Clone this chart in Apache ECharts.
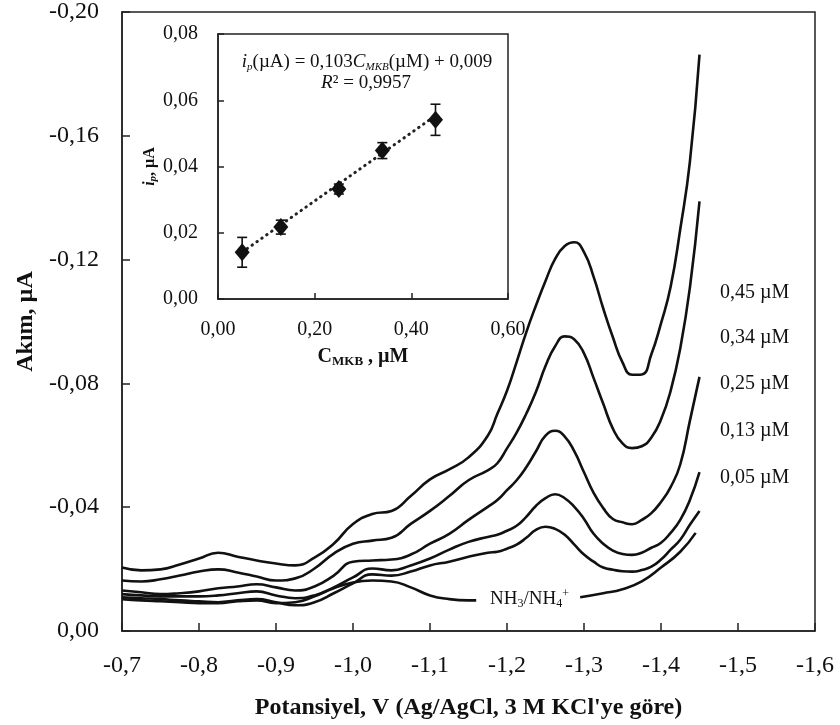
<!DOCTYPE html>
<html>
<head>
<meta charset="utf-8">
<script src="https://cdn.jsdelivr.net/npm/echarts@6/dist/echarts.min.js"></script>
<style>
  html, body { margin: 0; padding: 0; background: #fff; }
  #chart { width: 840px; height: 725px; }
</style>
</head>
<body>
<div id="chart"></div>
<script>
// Differential pulse voltammograms: potential (V vs Ag/AgCl) and current (µA).
// Sampling is 25 mV up to -1.175 V and 12.5 mV across the reduction peak.
const potential = [-0.700, -0.725, -0.750, -0.775, -0.800, -0.825, -0.850, -0.875, -0.900, -0.925,
  -0.950, -0.975, -1.000, -1.025, -1.050, -1.075, -1.100, -1.125, -1.150, -1.175,
  -1.1875, -1.2000, -1.2125, -1.2250, -1.2375, -1.2500, -1.2625, -1.2750, -1.2875, -1.3000, -1.3125,
  -1.3250, -1.3375, -1.3500, -1.3625, -1.3750, -1.3875, -1.4000, -1.4125, -1.4250, -1.4375, -1.4500];

const current045 = [-0.0205, -0.0196, -0.0199, -0.0215, -0.0234, -0.0253, -0.0240, -0.0228, -0.0218, -0.0212,
  -0.0237, -0.0282, -0.0346, -0.0378, -0.0388, -0.0436, -0.0490, -0.0522, -0.0561, -0.0631,
  -0.0702, -0.0776, -0.0869, -0.0965, -0.1051, -0.1131, -0.1202, -0.1244, -0.1256, -0.1224, -0.1144,
  -0.1042, -0.0949, -0.0868, -0.0828, -0.0829, -0.0894, -0.0994, -0.1112, -0.1298, -0.1516, -0.1862];
const current034 = [-0.0163, -0.0160, -0.0167, -0.0179, -0.0192, -0.0199, -0.0189, -0.0176, -0.0163, -0.0170,
  -0.0202, -0.0250, -0.0282, -0.0292, -0.0301, -0.0346, -0.0388, -0.0436, -0.0487, -0.0519,
  -0.0542, -0.0590, -0.0641, -0.0702, -0.0772, -0.0856, -0.0920, -0.0952, -0.0942, -0.0897, -0.0817,
  -0.0734, -0.0654, -0.0606, -0.0591, -0.0597, -0.0625, -0.0683, -0.0776, -0.0913, -0.1109, -0.1388];
const current025 = [-0.0131, -0.0125, -0.0119, -0.0122, -0.0128, -0.0138, -0.0144, -0.0151, -0.0141, -0.0131,
  -0.0144, -0.0179, -0.0224, -0.0228, -0.0231, -0.0247, -0.0282, -0.0314, -0.0359, -0.0401,
  -0.0423, -0.0455, -0.0487, -0.0529, -0.0580, -0.0631, -0.0647, -0.0628, -0.0580, -0.0513, -0.0446,
  -0.0397, -0.0362, -0.0351, -0.0345, -0.0359, -0.0381, -0.0417, -0.0465, -0.0538, -0.0679, -0.0821];
const current013 = [-0.0119, -0.0115, -0.0112, -0.0112, -0.0112, -0.0115, -0.0122, -0.0128, -0.0115, -0.0106,
  -0.0115, -0.0141, -0.0173, -0.0202, -0.0196, -0.0212, -0.0234, -0.0263, -0.0288, -0.0304,
  -0.0311, -0.0324, -0.0340, -0.0369, -0.0404, -0.0429, -0.0442, -0.0429, -0.0401, -0.0362, -0.0314,
  -0.0282, -0.0260, -0.0249, -0.0246, -0.0253, -0.0269, -0.0285, -0.0317, -0.0359, -0.0423, -0.0513];
const current005 = [-0.0109, -0.0106, -0.0103, -0.0099, -0.0096, -0.0093, -0.0099, -0.0103, -0.0093, -0.0083,
  -0.0093, -0.0122, -0.0154, -0.0183, -0.0179, -0.0192, -0.0212, -0.0224, -0.0240, -0.0253,
  -0.0256, -0.0266, -0.0279, -0.0301, -0.0327, -0.0337, -0.0330, -0.0311, -0.0279, -0.0247, -0.0224,
  -0.0205, -0.0198, -0.0193, -0.0192, -0.0197, -0.0208, -0.0231, -0.0263, -0.0295, -0.0343, -0.0388];

// Supporting electrolyte (NH3/NH4+) trace; the null leaves room for its label
const blankPotential = [-0.700, -0.725, -0.750, -0.775, -0.800, -0.825, -0.850, -0.875, -0.900, -0.925,
  -0.950, -0.975, -1.000, -1.025, -1.050, -1.075, -1.100, -1.125, -1.150, -1.160,
  -1.230, -1.295, -1.325, -1.350, -1.375, -1.400, -1.425, -1.445];
const blankCurrent = [-0.0103, -0.0099, -0.0096, -0.0093, -0.0090, -0.0090, -0.0096, -0.0099, -0.0090, -0.0093,
  -0.0112, -0.0138, -0.0157, -0.0163, -0.0160, -0.0141, -0.0115, -0.0103, -0.0099, -0.0099,
  null, -0.0109, -0.0122, -0.0135, -0.0160, -0.0205, -0.0256, -0.0317];

const concentrationLabels = ['0,45 µM', '0,34 µM', '0,25 µM', '0,13 µM', '0,05 µM'];

// Calibration inset: concentration (µM), peak current (µA), error (µA)
const concentration = [0.05, 0.13, 0.25, 0.34, 0.45];
const peakCurrent = [0.0141, 0.0217, 0.0332, 0.0448, 0.0541];
const peakError = [0.0045, 0.0021, 0.0015, 0.0024, 0.0047];
const fitSlope = 0.103;
const fitIntercept = 0.009;
const fitRange = [0.05, 0.45];

const SERIF = "'Liberation Serif', 'Times New Roman', serif";
const INK = '#111';

function comma(digits) {
  return function (v) {
    const x = Math.abs(v) < 1e-9 ? 0 : v;
    return x.toFixed(digits).replace('.', ',');
  };
}
function pairs(xs, ys) {
  return xs.map(function (x, i) { return [x, ys[i] === null ? '-' : ys[i]]; });
}

const curveStyle = { color: INK, width: 2.6 };
function curve(xs, ys) {
  return {
    type: 'line', xAxisIndex: 0, yAxisIndex: 0, data: pairs(xs, ys),
    showSymbol: false, symbol: 'none', smooth: 0.5, connectNulls: false,
    lineStyle: curveStyle, silent: true
  };
}

const chart = echarts.init(document.getElementById('chart'), null, { renderer: 'canvas' });

chart.setOption({
  animation: false,
  backgroundColor: '#fff',
  grid: [
    { left: 122, top: 9, width: 693, height: 624, show: true, borderColor: '#222', borderWidth: 1.5 },
    { left: 218, top: 34, width: 290, height: 265, show: true, borderColor: '#222', borderWidth: 1.5, backgroundColor: '#fff' }
  ],
  xAxis: [
    {
      gridIndex: 0, type: 'value', min: -1.6, max: -0.7, interval: 0.1, inverse: true,
      axisLine: { onZero: false, lineStyle: { color: '#222', width: 1.5 } },
      axisTick: { inside: true, length: 8, lineStyle: { color: '#222', width: 1.5 } },
      splitLine: { show: false },
      axisLabel: { formatter: comma(1), fontFamily: SERIF, fontSize: 24, color: INK, margin: 23 },
      name: "Potansiyel, V (Ag/AgCl, 3 M KCl'ye göre)", nameLocation: 'middle', nameGap: 65,
      nameTextStyle: { fontFamily: SERIF, fontSize: 24, fontWeight: 'bold', color: INK }
    },
    {
      gridIndex: 1, type: 'value', min: 0, max: 0.6, interval: 0.2,
      axisLine: { onZero: false, lineStyle: { color: '#222', width: 1.5 } },
      axisTick: { inside: true, length: 6, lineStyle: { color: '#222', width: 1.5 } },
      splitLine: { show: false },
      axisLabel: { formatter: comma(2), fontFamily: SERIF, fontSize: 20, color: INK, margin: 21 },
      name: '{b|C}{s|MKB}{b| , µM}', nameLocation: 'middle', nameGap: 47,
      nameTextStyle: {
        rich: {
          b: { fontFamily: SERIF, fontSize: 20, fontWeight: 'bold', color: INK, lineHeight: 22, verticalAlign: 'middle' },
          s: { fontFamily: SERIF, fontSize: 13, fontWeight: 'bold', color: INK, lineHeight: 15, verticalAlign: 'bottom' }
        }
      }
    }
  ],
  yAxis: [
    {
      gridIndex: 0, type: 'value', min: -0.2, max: 0, interval: 0.04, inverse: true,
      axisLine: { onZero: false, lineStyle: { color: '#222', width: 1.5 } },
      axisTick: { inside: true, length: 8, lineStyle: { color: '#222', width: 1.5 } },
      splitLine: { show: false },
      axisLabel: { formatter: comma(2), fontFamily: SERIF, fontSize: 24, color: INK, margin: 23 },
      name: 'Akım, µA', nameLocation: 'middle', nameGap: 83,
      nameTextStyle: { fontFamily: SERIF, fontSize: 24, fontWeight: 'bold', color: INK }
    },
    {
      gridIndex: 1, type: 'value', min: 0, max: 0.08, interval: 0.02,
      axisLine: { onZero: false, lineStyle: { color: '#222', width: 1.5 } },
      axisTick: { inside: true, length: 6, lineStyle: { color: '#222', width: 1.5 } },
      splitLine: { show: false },
      axisLabel: { formatter: comma(2), fontFamily: SERIF, fontSize: 20, color: INK, margin: 20 },
      name: '{i|i}{p|p}{n|, µA}', nameLocation: 'middle', nameGap: 58,
      nameTextStyle: {
        rich: {
          i: { fontFamily: SERIF, fontSize: 16, fontWeight: 'bold', fontStyle: 'italic', color: INK, lineHeight: 18, verticalAlign: 'middle' },
          p: { fontFamily: SERIF, fontSize: 11, fontWeight: 'bold', fontStyle: 'italic', color: INK, lineHeight: 12, verticalAlign: 'bottom' },
          n: { fontFamily: SERIF, fontSize: 16, fontWeight: 'bold', color: INK, lineHeight: 18, verticalAlign: 'middle' }
        }
      }
    }
  ],
  series: [
    curve(potential, current045),
    curve(potential, current034),
    curve(potential, current025),
    curve(potential, current013),
    curve(potential, current005),
    curve(blankPotential, blankCurrent),
    {
      // least-squares line of the calibration
      type: 'line', xAxisIndex: 1, yAxisIndex: 1, silent: true,
      data: fitRange.map(function (c) { return [c, fitSlope * c + fitIntercept]; }),
      symbol: 'none', z: 2,
      lineStyle: { color: '#222', width: 3, type: [0.5, 5.5], cap: 'round' }
    },
    {
      type: 'custom', xAxisIndex: 1, yAxisIndex: 1, silent: true, z: 3,
      data: concentration.map(function (c, i) { return [c, peakCurrent[i], peakError[i]]; }),
      renderItem: function (params, api) {
        const x = api.value(0), y = api.value(1), e = api.value(2);
        const top = api.coord([x, y + e]);
        const bot = api.coord([x, y - e]);
        const hw = 5;
        const st = { stroke: INK, lineWidth: 1.6 };
        return {
          type: 'group',
          children: [
            { type: 'line', shape: { x1: top[0], y1: top[1], x2: bot[0], y2: bot[1] }, style: st },
            { type: 'line', shape: { x1: top[0] - hw, y1: top[1], x2: top[0] + hw, y2: top[1] }, style: st },
            { type: 'line', shape: { x1: bot[0] - hw, y1: bot[1], x2: bot[0] + hw, y2: bot[1] }, style: st }
          ]
        };
      }
    },
    {
      type: 'scatter', xAxisIndex: 1, yAxisIndex: 1, silent: true, z: 4,
      data: concentration.map(function (c, i) { return [c, peakCurrent[i]]; }),
      symbol: 'diamond', symbolSize: [15, 18],
      itemStyle: { color: INK, opacity: 1 }
    }
  ],
  graphic: [
    {
      type: 'text', x: 367, y: 62,
      style: {
        text: '{it|i}{s|p}{n|(µA) = 0,103}{it|C}{s|MKB}{n|(µM) + 0,009}',
        align: 'center', verticalAlign: 'middle',
        rich: {
          it: { fontFamily: SERIF, fontSize: 19, fontStyle: 'italic', fill: INK, lineHeight: 22, verticalAlign: 'middle' },
          n: { fontFamily: SERIF, fontSize: 19, fill: INK, lineHeight: 22, verticalAlign: 'middle' },
          s: { fontFamily: SERIF, fontSize: 11, fontStyle: 'italic', fill: INK, lineHeight: 12, verticalAlign: 'bottom' }
        }
      }
    },
    {
      type: 'text', x: 366, y: 83,
      style: {
        text: '{it|R}{n|² = 0,9957}',
        align: 'center', verticalAlign: 'middle',
        rich: {
          it: { fontFamily: SERIF, fontSize: 19, fontStyle: 'italic', fill: INK, lineHeight: 22, verticalAlign: 'middle' },
          n: { fontFamily: SERIF, fontSize: 19, fill: INK, lineHeight: 22, verticalAlign: 'middle' }
        }
      }
    },
    {
      type: 'text', x: 490, y: 599,
      style: {
        text: '{n|NH}{s|3}{n|/NH}{s|4}{u|+}',
        align: 'left', verticalAlign: 'middle',
        rich: {
          n: { fontFamily: SERIF, fontSize: 19, fill: INK, lineHeight: 22, verticalAlign: 'middle' },
          s: { fontFamily: SERIF, fontSize: 12, fill: INK, lineHeight: 12, verticalAlign: 'bottom' },
          u: { fontFamily: SERIF, fontSize: 12, fill: INK, lineHeight: 12, verticalAlign: 'top' }
        }
      }
    }
  ].concat(concentrationLabels.map(function (t, i) {
    const ys = [293, 338, 384, 431, 478];
    return {
      type: 'text', x: 720, y: ys[i],
      style: { text: t, font: '20px ' + SERIF, fill: INK, align: 'left', verticalAlign: 'middle' }
    };
  }))
});
</script>
</body>
</html>
